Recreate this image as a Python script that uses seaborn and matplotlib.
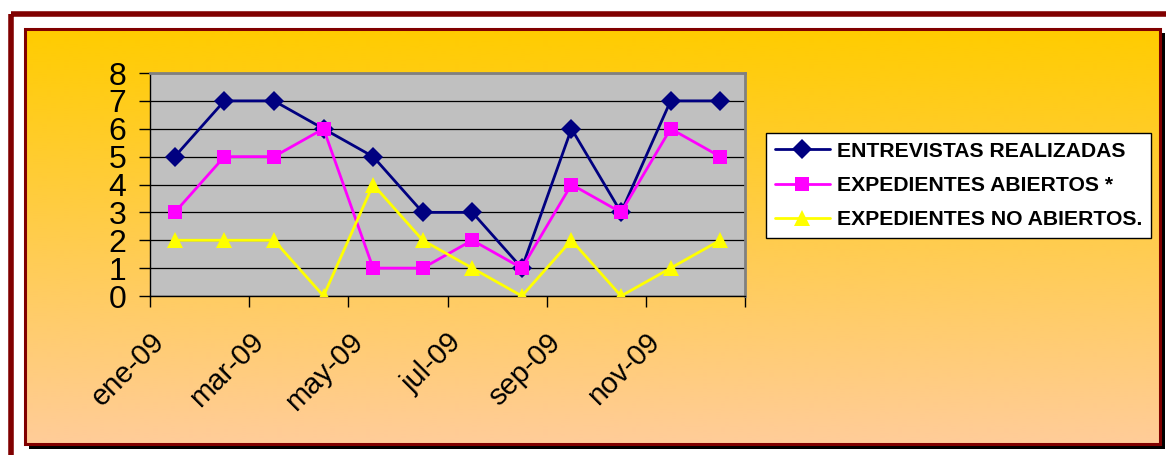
import numpy as np
import pandas as pd
import matplotlib
matplotlib.use("Agg")
import matplotlib.pyplot as plt
import matplotlib.transforms as mtransforms
from matplotlib.patches import Rectangle
from matplotlib.colors import LinearSegmentedColormap
from matplotlib.lines import Line2D
import seaborn as sns

# ---- data ----
months = ["ene-09", "feb-09", "mar-09", "abr-09", "may-09", "jun-09",
          "jul-09", "ago-09", "sep-09", "oct-09", "nov-09", "dic-09"]
tick_labels = ["ene-09", "mar-09", "may-09", "jul-09", "sep-09", "nov-09", ""]
series_names = ["ENTREVISTAS REALIZADAS", "EXPEDIENTES ABIERTOS *",
                "EXPEDIENTES NO ABIERTOS."]
entrevistas = [5, 7, 7, 6, 5, 3, 3, 1, 6, 3, 7, 7]
abiertos = [3, 5, 5, 6, 1, 1, 2, 1, 4, 3, 6, 5]
no_abiertos = [2, 2, 2, 0, 4, 2, 1, 0, 2, 0, 1, 2]

colors = ["#000080", "#FF00FF", "#FFFF00"]
markers = ["D", "s", "^"]

rows = []
for name, vals in zip(series_names, [entrevistas, abiertos, no_abiertos]):
    for i, v in enumerate(vals):
        rows.append({"idx": i, "mes": months[i], "valor": v, "serie": name})
df = pd.DataFrame(rows)

sns.set_theme(style="white")
plt.rcParams["font.family"] = ["Liberation Sans", "DejaVu Sans"]
plt.rcParams["text.color"] = "black"
plt.rcParams["xtick.color"] = "black"
plt.rcParams["ytick.color"] = "black"

W, H = 1166, 455
fig = plt.figure(figsize=(W / 100, H / 100), dpi=100, facecolor="white")

# background axes in pixel coordinates
bg = fig.add_axes([0, 0, 1, 1], zorder=0)
bg.set_xlim(0, W)
bg.set_ylim(H, 0)
bg.axis("off")

bg.add_patch(Rectangle((10.5, 14), W + 20, H + 20, fill=False,
                       edgecolor="#800000", linewidth=4))
bg.add_patch(Rectangle((29, 33), 1136, 416, facecolor="black", edgecolor="none"))
cmap = LinearSegmentedColormap.from_list("g", ["#FFCC00", "#FFCC99"])
grad = np.linspace(0, 1, 256).reshape(-1, 1)
bg.imshow(grad, cmap=cmap, aspect="auto", extent=(25, 1160, 444, 29),
          interpolation="bilinear", zorder=1)
bg.add_patch(Rectangle((25, 29), 1135, 415, fill=False,
                       edgecolor="#800000", linewidth=2.2, zorder=2))

# main plot
ax = fig.add_axes([150 / W, 1 - 296 / H, (745 - 150) / W, (296 - 73) / H], zorder=2)
ax.set_facecolor("#C0C0C0")
sns.lineplot(data=df, x="idx", y="valor", hue="serie", style="serie",
             palette=colors, markers=markers, dashes=False, ax=ax,
             linewidth=2, markersize=10, markeredgewidth=0, legend=False,
             hue_order=series_names, style_order=series_names, zorder=3)
for ln in ax.get_lines():
    if ln.get_marker() == "^":
        ln.set_markersize(12)

ax.set_xlim(-0.5, 11.5)
ax.set_ylim(0, 8)
ax.set_yticks(range(0, 9))
ax.yaxis.grid(True, color="black", linewidth=0.9)
ax.xaxis.grid(False)
ax.set_xticks(np.arange(-0.5, 12, 2))
ax.set_xticklabels(tick_labels)
ax.set_xlabel("")
ax.set_ylabel("")
ax.tick_params(axis="y", labelsize=23, length=8, width=1, color="black",
               labelcolor="black", direction="out", left=True, pad=9)
ax.tick_params(axis="x", labelsize=21, length=8, width=1, color="black",
               labelcolor="black", direction="out", bottom=True, pad=2)
for lab in ax.get_xticklabels():
    lab.set_rotation(45)
    lab.set_ha("right")
    lab.set_va("top")
    lab.set_rotation_mode("anchor")
    lab.set_transform(lab.get_transform() +
                      mtransforms.ScaledTranslation(0 / 100, -18 / 100, fig.dpi_scale_trans))
for s in ["left", "bottom"]:
    ax.spines[s].set_color("black")
    ax.spines[s].set_linewidth(1)
for s in ["top", "right"]:
    ax.spines[s].set_color("#808080")
    ax.spines[s].set_linewidth(2)

# legend
handles = [Line2D([0], [0], color=c, marker=m, markersize=ms, markeredgewidth=0,
                  linewidth=2) for c, m, ms in zip(colors, markers, [10, 10, 12])]
leg = fig.legend(handles, series_names, loc="upper left",
                 bbox_to_anchor=(766 / W, 1 - 133 / H),
                 prop={"weight": "bold", "size": 15.2},
                 frameon=True, fancybox=False, handlelength=2.6,
                 handletextpad=0.35, labelspacing=0.72, borderpad=0.42,
                 borderaxespad=0)
for t in leg.get_texts():
    t.set_color("black")
leg.get_frame().set_edgecolor("black")
leg.get_frame().set_linewidth(1)
leg.get_frame().set_facecolor("white")
leg.get_frame().set_alpha(1)
leg.set_zorder(5)

fig.savefig("out.png", dpi=100, facecolor="white")
